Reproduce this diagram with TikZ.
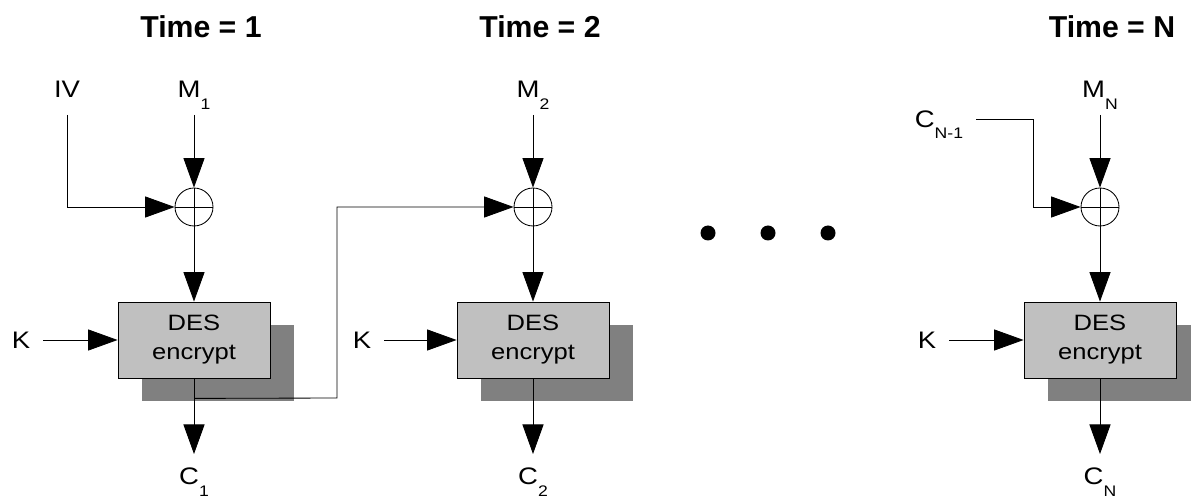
\documentclass[tikz,border=0pt]{standalone}
\usepackage{fontspec}
\setmainfont{Liberation Sans}
\newfontfamily\widefont{Liberation Sans}[FakeStretch=1.15]
\usetikzlibrary{arrows.meta, positioning, shadows, calc}
\definecolor{boxgray}{RGB}{192, 192, 192}
\definecolor{shadowgray}{RGB}{128, 128, 128}
\newcommand{\lowsub}[1]{\raisebox{-8pt}{\fontsize{10.9}{11}\selectfont #1}}
\tikzset{
    desbox/.style={
        rectangle,
        draw=black,
        fill=boxgray,
        line width=0.6pt,
        minimum width=3.8cm,
        minimum height=1.9cm,
        align=center,
        font=\widefont\fontsize{15.8}{20.6}\selectfont,
        drop shadow={shadow xshift=0.6cm, shadow yshift=-0.58cm, fill=shadowgray, opacity=1}
    },
    xorgate/.style={
        circle,
        draw=black,
        line width=0.6pt,
        minimum size=0.95cm,
        inner sep=0pt,
        path picture={
            \draw[line width=0.6pt] (path picture bounding box.north) -- (path picture bounding box.south)
                (path picture bounding box.west) -- (path picture bounding box.east);
        }
    },
    lbl/.style={
        font=\widefont\fontsize{17}{18}\selectfont,
        text height=12.2pt,
        text depth=0pt,
        inner xsep=9pt,
        inner ysep=12pt
    },
    outlbl/.style={
        lbl,
        anchor=north,
        inner ysep=9.5pt
    },
    timelbl/.style={
        font=\fontsize{21.5}{24}\selectfont\bfseries,
        anchor=base
    },
    bigdot/.style={
        circle,
        fill=black,
        minimum size=0.375cm,
        inner sep=0pt
    },
    wire/.style={
        line width=0.6pt,
        -{Triangle[length=21pt, width=15pt]}
    }
}
\begin{document}
\begin{tikzpicture}
        \useasboundingbox (0,0) rectangle (29.775,-12.475);
        % one column per time step, titles on top
        \node[timelbl] (t1) at (5.025,-0.95) {Time = 1};
        \node[timelbl] (t2) at (13.5,-0.95) {Time = 2};
        \node[timelbl] (tN) at (27.8,-0.95) {Time = N};

        % Time = 1: the IV goes into the first XOR
        \node[lbl, anchor=south] (iv) at (1.675,-2.875) {IV};
        \node[lbl, anchor=south] (m1) at (4.85,-2.875) {M\lowsub{1}};
        \node[xorgate] (x1) at (4.85,-5.175) {};
        \node[desbox] (des1) at (4.85,-8.5) {DES\\encrypt};
        \node[lbl] (k1) at (0.525,-8.5) {K};
        \node[outlbl] (c1) at (4.85,-11.35) {C\lowsub{1}};

        % Time = 2
        \node[lbl, anchor=south] (m2) at (13.325,-2.875) {M\lowsub{2}};
        \node[xorgate] (x2) at (13.325,-5.175) {};
        \node[desbox] (des2) at (13.325,-8.5) {DES\\encrypt};
        \node[lbl] (k2) at (9.05,-8.5) {K};
        \node[outlbl] (c2) at (13.325,-11.35) {C\lowsub{2}};

        % the gap in between
        \node[bigdot] (d1) at (17.7,-5.825) {};
        \node[bigdot] (d2) at (19.2,-5.825) {};
        \node[bigdot] (d3) at (20.7,-5.825) {};

        % Time = N: fed by the previous ciphertext block
        \node[lbl] (cprev) at (23.475,-2.975) {C\lowsub{N-1}};
        \node[lbl, anchor=south] (mN) at (27.5,-2.875) {M\lowsub{N}};
        \node[xorgate] (xN) at (27.5,-5.175) {};
        \node[desbox] (desN) at (27.5,-8.5) {DES\\encrypt};
        \node[lbl] (kN) at (23.175,-8.5) {K};
        \node[outlbl] (cN) at (27.5,-11.35) {C\lowsub{N}};

        \path[wire]
            (m1)   edge (x1)
            (x1)   edge (des1)
            (k1)   edge (des1)
            (des1) edge (c1)
            (m2)   edge (x2)
            (x2)   edge (des2)
            (k2)   edge (des2)
            (des2) edge (c2)
            (mN)   edge (xN)
            (xN)   edge (desN)
            (kN)   edge (desN)
            (desN) edge (cN);

        \draw[wire] (iv.south) |- (x1.west);
        % C1 is tapped below the box and chained into the next XOR
        \coordinate (tap1) at ($(des1.south)+(0,-0.5)$);
        \coordinate (turn1) at (8.425,-9.95);
        \draw[wire] (tap1) -- (turn1) |- (x2.west);
        \coordinate (jogN) at (25.825,-2.975);
        \draw[wire] (cprev.east) -- (jogN) |- (xN.west);
    \end{tikzpicture}
\end{document}
